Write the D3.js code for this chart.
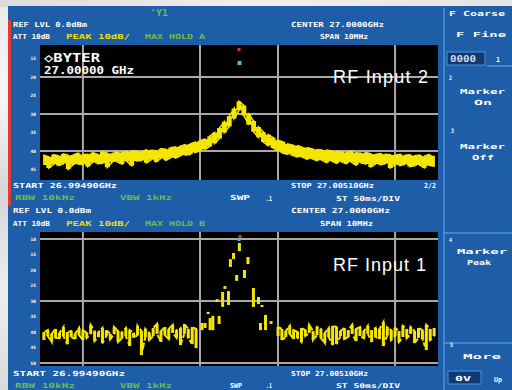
<!DOCTYPE html>
<html><head><meta charset="utf-8">
<script src="https://cdn.jsdelivr.net/npm/d3@7"></script>
<style>
html,body{margin:0;padding:0;background:#fff;}
svg{display:block;}
</style></head><body>
<svg id="c" width="512" height="390"></svg>
<script>
// Frequency axis: offsets in MHz from the 27 GHz centre
const gridFreqs = [-4, -1, 1, 4];
const topGridLevels = [-20, -30, -40];
const bottomGridLevels = [-10, -30, -50];
const topTickLevels = [-15, -20, -25, -30, -35, -40, -45];
const bottomTickLevels = [-10, -15, -20, -25, -30, -35, -40, -45, -50];
const markerFreq = 0;

// RF Input 2 sweep: 81 points, -5 MHz to +5 MHz, upper/lower envelope (dBm)
const topSweepStart = -5, topSweepStep = 0.125;
const topHi = [-41.2,-41.6,-41.0,-41.3,-40.8,-41.2,-41.1,-40.6,-41.0,-40.9,
  -40.5,-40.9,-40.2,-40.6,-40.7,-40.3,-40.4,-40.2,-40.1,-40.0,
  -40.2,-39.7,-39.8,-39.9,-39.4,-39.5,-39.1,-38.9,-38.7,-38.3,
  -38.1,-37.6,-37.2,-36.8,-36.0,-35.0,-33.8,-32.1,-30.6,-28.5,
  -26.6,-27.7,-30.1,-31.9,-33.5,-34.9,-35.6,-36.4,-37.1,-37.5,
  -38.1,-38.4,-38.6,-39.0,-39.1,-39.4,-39.6,-39.7,-39.8,-40.0,
  -40.1,-40.2,-40.4,-40.1,-40.5,-40.6,-40.4,-40.8,-40.9,-40.7,
  -40.9,-41.0,-41.1,-40.9,-41.2,-41.0,-41.3,-41.1,-41.4,-41.0,-41.3];
const topLo = [-43.8,-44.6,-43.6,-43.9,-43.4,-44.9,-43.7,-43.5,-43.6,-44.2,
  -43.1,-43.4,-43.3,-44.4,-43.0,-42.9,-43.5,-42.8,-43.9,-42.7,
  -42.6,-43.2,-42.4,-42.9,-42.0,-42.5,-41.8,-41.9,-41.3,-41.1,
  -40.9,-40.4,-39.9,-39.5,-38.8,-37.9,-36.6,-35.0,-33.4,-31.2,
  -29.0,-30.4,-32.9,-34.8,-36.3,-37.6,-38.5,-39.2,-39.9,-40.6,
  -40.9,-41.2,-41.6,-41.7,-42.2,-42.1,-42.6,-42.5,-43.1,-42.7,
  -43.3,-42.9,-43.4,-43.0,-43.8,-43.2,-43.5,-44.3,-43.5,-43.7,
  -43.4,-44.6,-43.7,-43.9,-43.6,-44.2,-44.0,-43.8,-44.5,-43.9,-44.1];

// RF Input 1 sweep: noise floor, 101 points at 0.1 MHz (null = no sample drawn)
const floorStart = -5, floorStep = 0.1;
const floorHi = [-40.0,-39.4,-40.6,-39.0,-40.3,-38.4,-40.0,-39.7,-40.6,-38.7,
  -39.4,-40.3,-37.7,-39.7,-40.0,-38.7,-39.4,-40.6,-38.4,-39.7,
  -40.0,-38.7,-39.4,-40.3,-38.0,-39.7,-39.0,-40.3,-38.7,-37.4,
  -39.7,-38.4,-39.0,-37.7,-39.4,-38.7,-37.4,-39.0,-38.4,-39.0,
  null,null,null,null,null,null,null,null,null,null,
  null,null,null,null,null,null,null,null,null,null,
  -38.4,-39.0,-39.7,-38.0,-39.4,-40.0,-38.7,-39.4,-37.7,-39.7,
  -38.4,-39.0,-40.3,-38.7,-38.0,-38.4,-39.7,-38.7,-39.4,-37.7,
  -39.0,-38.4,-39.7,-38.0,-39.4,-38.7,-39.0,-36.8,-38.4,-39.4,
  -38.7,-39.7,-38.0,-39.0,-38.4,-39.7,-38.7,-39.4,-37.7,-39.0,-38.7];
const floorLo = [-42.6,-41.3,-43.2,-41.9,-42.0,-41.3,-43.9,-41.6,-42.3,-41.0,
  -42.6,-41.9,-40.6,-42.9,-41.6,-43.6,-41.3,-42.3,-40.6,-43.2,
  -42.0,-41.3,-44.5,-41.9,-41.0,-47.4,-41.6,-42.6,-41.3,-40.6,
  -43.2,-41.0,-42.3,-40.3,-41.9,-44.2,-40.6,-42.0,-43.9,-45.2,
  null,null,null,null,null,null,null,null,null,null,
  null,null,null,null,null,null,null,null,null,null,
  -41.3,-42.6,-41.6,-40.6,-42.3,-41.9,-43.2,-41.3,-40.3,-42.6,
  -41.0,-42.0,-43.6,-41.6,-44.2,-43.9,-41.3,-42.3,-41.6,-40.6,
  -42.9,-41.3,-42.0,-40.6,-43.2,-41.6,-42.3,-44.5,-41.0,-42.6,
  -41.3,-43.2,-41.6,-42.0,-40.6,-43.6,-41.9,-42.3,-45.8,-42.6,-41.3];

// RF Input 1 sweep: samples around the carrier (MHz offset, top, bottom in dBm)
const peakFreq = [0.01,-0.14,-0.22,0.23,0.14,-0.06,-0.36,-0.27,-0.42,-0.56,
  0.37,0.50,0.59,-0.79,-0.67,-0.51,-0.74,-0.95,-0.87,0.55,0.68,0.82];
const peakHi = [-11.3,-14.5,-16.5,-15.8,-20.0,-21.6,-25.2,-26.8,-27.1,-29.4,
  -25.8,-28.7,-31.3,-33.5,-34.8,-34.8,-35.5,-37.1,-37.1,-37.1,-34.5,-36.5];
const peakLo = [-13.9,-16.5,-19.0,-18.1,-22.6,-23.5,-26.1,-31.3,-31.9,-30.3,
  -31.9,-31.0,-31.9,-34.2,-39.4,-37.4,-39.4,-39.4,-38.7,-39.4,-39.4,-37.4];

const BLUE = "#1e5da7", PANEL_LINE = "#4d93dc", GRID = "#a9a9a9";
const TRACE = "#f4e600", WHITE = "#ffffff", YEL = "#e9e000", GRN = "#68c046";
const MONO = "DejaVu Sans Mono, monospace";

const svg = d3.select("#c");
const defs = svg.append("defs");

// bezel around the display
const gTop = defs.append("linearGradient").attr("id", "bezelTop");
gTop.append("stop").attr("offset", "0").attr("stop-color", "#dcdcdc");
gTop.append("stop").attr("offset", "0.5").attr("stop-color", "#eeeeee");
gTop.append("stop").attr("offset", "1").attr("stop-color", "#e4e4e4");
const gLeft = defs.append("linearGradient").attr("id", "bezelLeft")
  .attr("x1", 0).attr("y1", 0).attr("x2", 0).attr("y2", 1);
[["0", "#e9e9e9"], ["0.25", "#f7f7f7"], ["0.5", "#d6d6d6"], ["0.75", "#efefef"], ["1", "#dadada"]]
  .forEach(([o, c]) => gLeft.append("stop").attr("offset", o).attr("stop-color", c));
svg.append("rect").attr("width", 512).attr("height", 390).attr("fill", "url(#bezelLeft)");
svg.append("rect").attr("width", 512).attr("height", 7).attr("fill", "url(#bezelTop)");
svg.append("rect").attr("x", 8).attr("y", 6).attr("width", 504).attr("height", 384).attr("fill", BLUE);
svg.append("rect").attr("x", 8).attr("y", 20).attr("width", 3).attr("height", 186).attr("fill", "#e23a32");

// softkey panel
svg.append("line").attr("x1", 444).attr("x2", 444).attr("y1", 8).attr("y2", 390)
  .attr("stroke", PANEL_LINE).attr("stroke-width", 1.5);
[233, 343].forEach(yy => svg.append("line").attr("x1", 444).attr("x2", 512)
  .attr("y1", yy).attr("y2", yy).attr("stroke", PANEL_LINE).attr("stroke-width", 1.5));

function label(xp, yp, text, color, size, width, opts = {}) {
  const t = svg.append("text").attr("x", xp).attr("y", yp).text(text)
    .attr("fill", color).attr("font-family", opts.family || MONO)
    .attr("font-size", size).attr("font-weight", opts.weight || "bold");
  if (width) t.attr("textLength", width).attr("lengthAdjust", opts.adjust || "spacingAndGlyphs");
  return t;
}

// plot scales
const x = d3.scaleLinear().domain([-5.1, 5.1]).range([40, 438]);
const yTop = d3.scaleLinear().domain([-47.84, -11.35]).range([180, 45]);
const yBot = d3.scaleLinear().domain([-50.97, -7.74]).range([366, 232]);

function plotFrame(y, levels, ticks) {
  const [y0, y1] = y.range();
  svg.append("rect").attr("x", x.range()[0]).attr("y", y1)
    .attr("width", x.range()[1] - x.range()[0]).attr("height", y0 - y1).attr("fill", "#000");
  svg.append("g").selectAll("line.v").data(gridFreqs).join("line")
    .attr("x1", d => x(d)).attr("x2", d => x(d)).attr("y1", y1).attr("y2", y0)
    .attr("stroke", GRID).attr("stroke-width", 2);
  svg.append("g").selectAll("line.h").data(levels).join("line")
    .attr("x1", x.range()[0]).attr("x2", x.range()[1]).attr("y1", d => y(d)).attr("y2", d => y(d))
    .attr("stroke", GRID).attr("stroke-width", 2);
  const ax = svg.append("g").attr("transform", `translate(${x.range()[0] - 4},0)`)
    .call(d3.axisLeft(y).tickValues(ticks).tickSize(0).tickPadding(0).tickFormat(d => -d));
  ax.select(".domain").remove();
  ax.selectAll("text").attr("fill", WHITE).attr("font-size", 4.5).attr("font-family", MONO)
    .attr("font-weight", "bold");
}

// RF Input 2
plotFrame(yTop, topGridLevels, topTickLevels);
const topPts = topHi.map((h, i) => ({ f: topSweepStart + i * topSweepStep, hi: h, lo: topLo[i] }));
svg.append("path").datum(topPts)
  .attr("d", d3.area().x(d => x(d.f)).y0(d => yTop(d.lo)).y1(d => yTop(d.hi)).curve(d3.curveStep))
  .attr("fill", TRACE);
// the same envelope traced as a zig-zag gives the ragged edge of the sweep
const topZig = topPts.flatMap((d, i) => i % 2 ? [{ f: d.f, v: d.hi }, { f: d.f, v: d.lo }] : [{ f: d.f, v: d.lo }, { f: d.f, v: d.hi }]);
svg.append("path").datum(topZig)
  .attr("d", d3.line().x(d => x(d.f)).y(d => yTop(d.v)))
  .attr("fill", "none").attr("stroke", TRACE).attr("stroke-width", 1.6);
svg.append("rect").attr("x", x(markerFreq) - 1.5).attr("y", 48).attr("width", 3).attr("height", 3).attr("fill", "#e0302a");
svg.append("rect").attr("x", x(markerFreq) - 1.5).attr("y", 61).attr("width", 4).attr("height", 4).attr("fill", "#3fc0d4");
label(44, 62, "\u25C7BYTER", WHITE, 12.5, 56);
label(44, 74, "27.00000 GHz", WHITE, 10, 90);
label(333, 83, "RF Input 2", WHITE, 18, 95, { family: "Liberation Sans, Arial, sans-serif", weight: "normal", adjust: "spacing" });

// RF Input 1
plotFrame(yBot, bottomGridLevels, bottomTickLevels);
const floorPts = floorHi.map((h, i) => ({ f: floorStart + i * floorStep, hi: h, lo: floorLo[i] }));
const peakPts = peakFreq.map((f, i) => ({ f, hi: peakHi[i], lo: peakLo[i] }));
const floorZig = floorPts.flatMap((d, i) => i % 2 ? [{ f: d.f, v: d.hi }, { f: d.f, v: d.lo }] : [{ f: d.f, v: d.lo }, { f: d.f, v: d.hi }]);
svg.append("path").datum(floorZig)
  .attr("d", d3.line().defined(d => d.v !== null).x(d => x(d.f)).y(d => yBot(d.v)))
  .attr("fill", "none").attr("stroke", TRACE).attr("stroke-width", 2).attr("stroke-dasharray", "7 2 4 3");
svg.append("g").selectAll("rect").data(floorPts.filter(d => d.hi !== null).concat(peakPts)).join("rect")
  .attr("x", d => x(d.f) - 1.5).attr("width", 3)
  .attr("y", d => yBot(d.hi)).attr("height", d => Math.max(2, yBot(d.lo) - yBot(d.hi)))
  .attr("fill", TRACE);
svg.append("rect").attr("x", x(markerFreq) - 0.5).attr("y", 235).attr("width", 3).attr("height", 3).attr("fill", "#e0302a");
svg.append("rect").attr("x", x(markerFreq) - 1.5).attr("y", 238).attr("width", 3).attr("height", 3).attr("fill", "#3fc0d4");
label(333, 271, "RF Input 1", WHITE, 18, 93, { family: "Liberation Sans, Arial, sans-serif", weight: "normal", adjust: "spacing" });

// status lines
label(150, 16, "'Y1", GRN, 8, 18);
label(13, 27, "REF LVL  0.0dBm", WHITE, 7, 74);
label(13, 39, "ATT 10dB", WHITE, 7, 37);
label(66, 39, "PEAK  10dB/", YEL, 7, 64);
label(145, 39, "MAX HOLD A", GRN, 7, 60);
label(291, 27, "CENTER 27.0000GHz", WHITE, 7, 93);
label(320, 39, "SPAN 10MHz", WHITE, 7, 48);

label(13, 188, "START 26.99490GHz", WHITE, 7, 104);
label(15, 200, "RBW 10kHz", GRN, 7, 60);
label(120, 200, "VBW 1kHz", GRN, 7, 52);
label(230, 200, "SWP", WHITE, 7, 20);
label(291, 188, "STOP 27.00510GHz", WHITE, 7, 83);
label(424, 188, "2/2", WHITE, 7, 12);
label(266, 201, ".1", WHITE, 7, 6);
label(336, 201, "ST 50ms/DIV", WHITE, 7, 64);
label(13, 213, "REF LVL  0.0dBm", WHITE, 7, 78);
label(13, 226, "ATT 10dB", WHITE, 7, 37);
label(66, 226, "PEAK  10dB/", YEL, 7, 64);
label(145, 226, "MAX HOLD B", GRN, 7, 60);
label(291, 213, "CENTER 27.0000GHz", WHITE, 7, 99);
label(320, 226, "SPAN 10MHz", WHITE, 7, 53);

label(13, 376, "START 26.99490GHz", WHITE, 7, 112);
label(291, 376, "STOP 27.00510GHz", WHITE, 7, 77);
label(15, 388, "RBW 10kHz", GRN, 7, 60);
label(120, 388, "VBW 1kHz", GRN, 7, 52);
label(230, 388, "SWP", WHITE, 7, 12);
label(266, 388, ".1", WHITE, 6.5, 6);
label(336, 388, "ST 50ms/DIV", WHITE, 6.5, 64);

// softkeys
label(449, 16, "F Coarse", WHITE, 7, 56);
label(456, 37, "F Fine", WHITE, 7, 50);
svg.append("rect").attr("x", 447).attr("y", 52).attr("width", 38).attr("height", 13)
  .attr("fill", "#123a72").attr("stroke", PANEL_LINE).attr("stroke-width", 1);
label(450, 62, "0000", "#cfd8e8", 8, 26);
label(496, 62, "1", WHITE, 7, 4);
svg.append("line").attr("x1", 487).attr("x2", 512).attr("y1", 66).attr("y2", 66)
  .attr("stroke", PANEL_LINE).attr("stroke-width", 1.5);
label(449, 80, "2", WHITE, 6, 3);
label(460, 94, "Marker", WHITE, 7, 45);
label(474, 105, "On", WHITE, 7, 18);
label(451, 133, "3", WHITE, 6, 3);
label(460, 149, "Marker", WHITE, 7, 45);
label(472, 160, "Off", WHITE, 7, 22);
label(449, 242, "4", WHITE, 6, 3);
label(457, 254, "Marker", WHITE, 7, 50);
label(467, 265, "Peak", WHITE, 7, 24);
label(450, 347, "5", WHITE, 6, 3);
label(463, 359, "More", WHITE, 7, 38);
svg.append("rect").attr("x", 448).attr("y", 371).attr("width", 33).attr("height", 13)
  .attr("fill", "#123a72").attr("stroke", PANEL_LINE).attr("stroke-width", 1);
label(455, 381, "0V", WHITE, 7, 16);
label(494, 382, "Up", WHITE, 7, 8);
</script>
</body></html>
